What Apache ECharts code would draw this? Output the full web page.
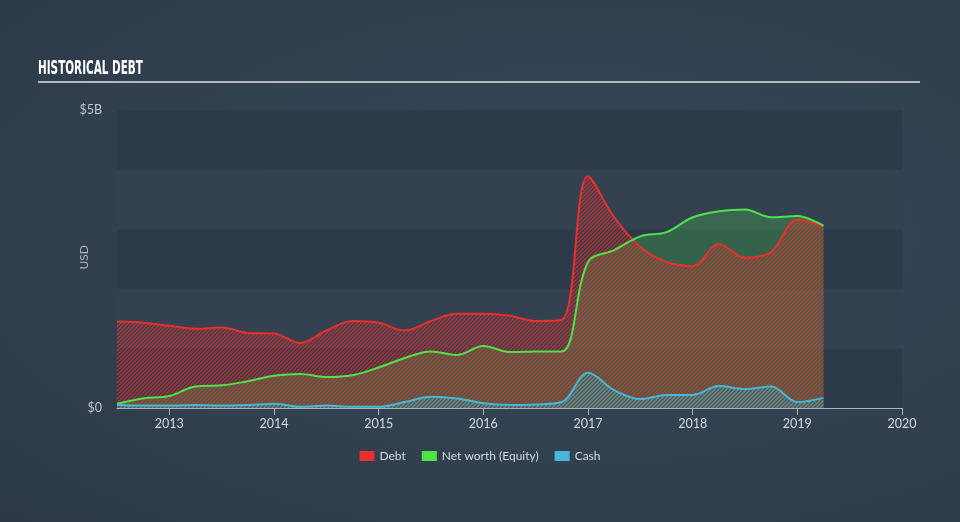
<!DOCTYPE html>
<html>
<head>
<meta charset="utf-8">
<script src="https://cdn.jsdelivr.net/npm/echarts@6/dist/echarts.min.js"></script>
<style>
html,body{margin:0;padding:0;width:960px;height:522px;overflow:hidden;
background:radial-gradient(ellipse at 60% 45%, #39495a 0%, #334252 45%, #2c3846 100%);}
#c{width:960px;height:522px;}
</style>
</head>
<body>
<div id="c"></div>
<script>
const dates = [2012.5, 2012.75, 2013.0, 2013.25, 2013.5, 2013.75, 2014.0, 2014.25, 2014.5, 2014.75,
  2015.0, 2015.25, 2015.5, 2015.75, 2016.0, 2016.25, 2016.5, 2016.75, 2017.0, 2017.25,
  2017.5, 2017.75, 2018.0, 2018.25, 2018.5, 2018.75, 2019.0, 2019.25];
const debt = [1.45, 1.43, 1.38, 1.33, 1.35, 1.26, 1.25, 1.09, 1.30, 1.46,
  1.43, 1.30, 1.46, 1.58, 1.58, 1.55, 1.46, 1.48, 3.89, 3.20,
  2.70, 2.45, 2.38, 2.75, 2.52, 2.62, 3.16, 3.05];
const equity = [0.07, 0.16, 0.20, 0.36, 0.38, 0.45, 0.54, 0.57, 0.52, 0.55,
  0.68, 0.84, 0.95, 0.89, 1.04, 0.94, 0.95, 0.95, 2.45, 2.65,
  2.88, 2.95, 3.20, 3.30, 3.33, 3.20, 3.22, 3.06];
const cash = [0.05, 0.04, 0.04, 0.05, 0.04, 0.05, 0.07, 0.02, 0.04, 0.02,
  0.02, 0.10, 0.19, 0.16, 0.08, 0.05, 0.06, 0.10, 0.59, 0.30,
  0.15, 0.22, 0.22, 0.37, 0.32, 0.36, 0.10, 0.17];
const yearTicks = [2013, 2014, 2015, 2016, 2017, 2018, 2019, 2020];
const seriesNames = ['Debt', 'Net worth (Equity)', 'Cash'];

const RED = '#e8302c', GREEN = '#4fe34a', CYAN = '#48b6d8';

function hatch(color) {
  const c = document.createElement('canvas');
  c.width = 4; c.height = 4;
  const g = c.getContext('2d');
  g.strokeStyle = color; g.lineWidth = 1.4;
  g.beginPath();
  g.moveTo(0, 4); g.lineTo(4, 0);
  g.moveTo(-1, 1); g.lineTo(1, -1);
  g.moveTo(3, 5); g.lineTo(5, 3);
  g.stroke();
  return c;
}
const pts = arr => dates.map((d, i) => [d, arr[i]]);

const chart = echarts.init(document.getElementById('c'), null, {renderer: 'canvas'});
const smooth = 0.35;
chart.setOption({
  backgroundColor: 'transparent',
  animation: false,
  grid: {left: 117, right: 58, top: 110, bottom: 114},
  graphic: [
    {type: 'text', x: 38, y: 59, scaleX: 0.58, style: {text: 'HISTORICAL DEBT', fill: '#ffffff',
      font: 'bold 20px "Liberation Sans Narrow", "DejaVu Sans Condensed", sans-serif'}},
    {type: 'rect', shape: {x: 38, y: 81, width: 882, height: 2}, style: {fill: '#b4b9bf'}},
    {type: 'text', left: 78, top: 245, rotation: Math.PI / 2,
      style: {text: 'USD', fill: '#b0b7be', font: '12px Lato, "Open Sans", sans-serif'}}
  ],
  legend: {
    bottom: 55, left: 'center', itemWidth: 15, itemHeight: 10, itemGap: 16,
    icon: 'rect',
    textStyle: {color: '#d6dadd', fontSize: 12, fontFamily: 'Lato, "Open Sans", sans-serif'},
    data: [
      {name: seriesNames[0], itemStyle: {color: RED}},
      {name: seriesNames[1], itemStyle: {color: GREEN}},
      {name: seriesNames[2], itemStyle: {color: CYAN}}
    ]
  },
  xAxis: {
    type: 'value', min: 2012.5, max: 2020,
    splitLine: {show: false},
    axisLine: {show: true, lineStyle: {color: '#aeb4bb', width: 1}},
    axisTick: {show: true, customValues: yearTicks, length: 7, lineStyle: {color: '#aeb4bb'}},
    axisLabel: {customValues: yearTicks, color: '#d6dadd', fontSize: 12.5, margin: 9,
      fontFamily: 'Lato, "Open Sans", sans-serif', formatter: v => String(Math.round(v))}
  },
  yAxis: {
    type: 'value', min: 0, max: 5, interval: 1,
    name: '', splitLine: {show: false},
    splitArea: {show: true, areaStyle: {color: ['#2d3a49', '#334151']}},
    axisLine: {show: false}, axisTick: {show: false},
    axisLabel: {color: '#c0c6cc', fontSize: 12.5, margin: 15,
      fontFamily: 'Lato, "Open Sans", sans-serif',
      formatter: v => v === 0 ? '$0' : (v === 5 ? '$5B' : '')}
  },
  series: [
    {name: seriesNames[1], type: 'line', data: pts(equity), smooth, symbol: 'none',
      lineStyle: {width: 0}, areaStyle: {color: 'rgba(80,226,80,0.24)', opacity: 1}, z: 1},
    {name: seriesNames[0], type: 'line', data: pts(debt), smooth, symbol: 'none',
      lineStyle: {width: 0}, areaStyle: {color: {image: hatch('rgba(232,48,44,0.72)'), repeat: 'repeat'}, opacity: 1}, z: 2},
    {name: seriesNames[2], type: 'line', data: pts(cash), smooth, symbol: 'none',
      lineStyle: {width: 0}, areaStyle: {color: {image: hatch('rgba(72,182,216,0.6)'), repeat: 'repeat'}, opacity: 1}, z: 3},
    {name: seriesNames[0], type: 'line', data: pts(debt), smooth, symbol: 'none',
      lineStyle: {width: 2, color: RED}, itemStyle: {color: RED}, z: 5},
    {name: seriesNames[1], type: 'line', data: pts(equity), smooth, symbol: 'none',
      lineStyle: {width: 2, color: GREEN}, itemStyle: {color: GREEN}, z: 6},
    {name: seriesNames[2], type: 'line', data: pts(cash), smooth, symbol: 'none',
      lineStyle: {width: 2, color: CYAN}, itemStyle: {color: CYAN}, z: 7}
  ]
});
</script>
</body>
</html>
